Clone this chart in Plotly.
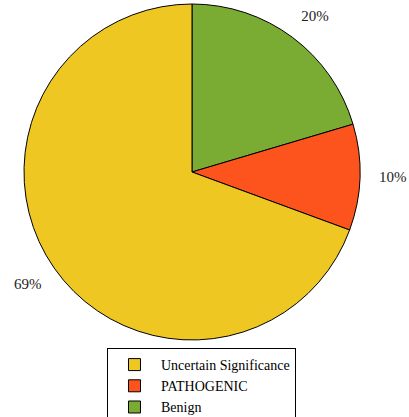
import plotly.graph_objects as go

labels = ["Benign", "PATHOGENIC", "Uncertain Significance"]
values = [10, 5, 34]
colors = ["#7AAB33", "#FD541E", "#EEC723"]

NB = "\u00a0"
label_templates = [
    "%{percent:.0%}<br>" + NB,
    NB * 4 + "%{percent:.0%}",
    NB + "<br>%{percent:.0%}" + NB,
]

fig = go.Figure(go.Pie(
    labels=labels,
    values=values,
    sort=False,
    direction="clockwise",
    rotation=0,
    marker=dict(colors=colors, line=dict(color="black", width=1)),
    textinfo="percent",
    texttemplate=label_templates,
    textposition="outside",
    textfont=dict(family="Liberation Serif", size=15, color="#222"),
    domain=dict(x=[0.0538, 0.885], y=[0.1847, 0.9904]),
))

fig.update_layout(
    width=409, height=417,
    margin=dict(l=0, r=0, t=0, b=0, autoexpand=False),
    paper_bgcolor="white",
    font=dict(family="Liberation Serif", size=14, color="black"),
    showlegend=True,
    legend=dict(
        x=0.2616, xanchor="left", y=0.1655, yanchor="top",
        bordercolor="black", borderwidth=1, bgcolor="white",
        font=dict(family="Liberation Serif", size=14, color="black"),
        tracegroupgap=0, traceorder="reversed", itemwidth=43,
    ),
)

fig.write_html(
    "out.html",
    config={"displayModeBar": False},
    post_script="document.body.style.margin='0';document.body.style.overflow='hidden';",
)
